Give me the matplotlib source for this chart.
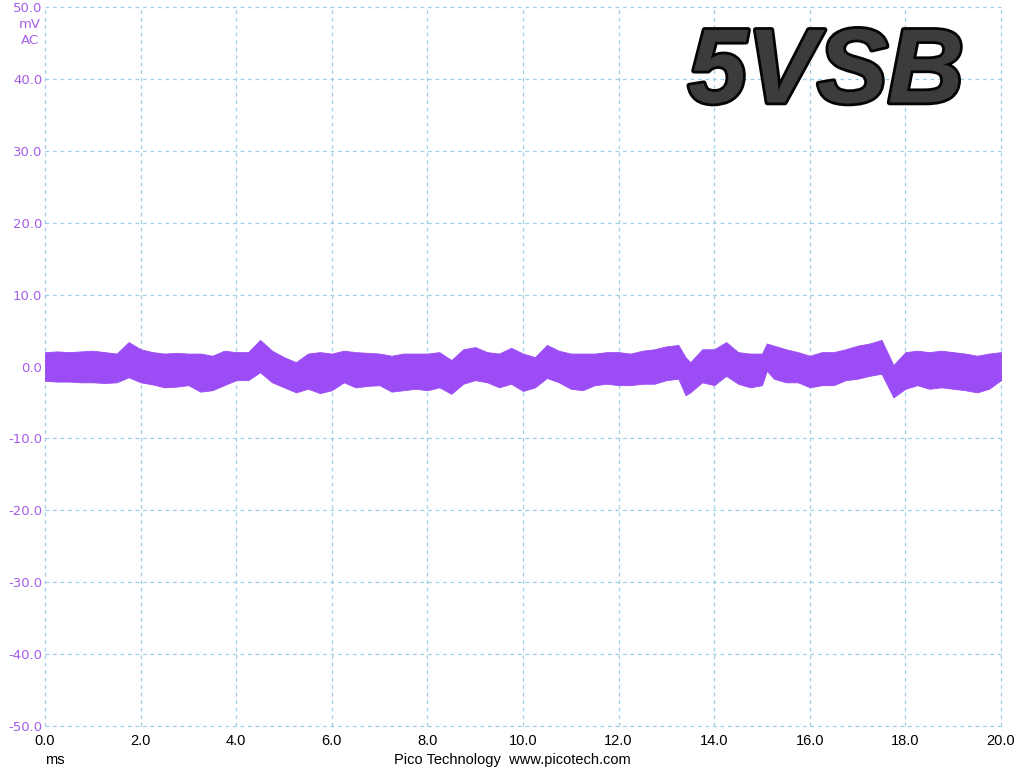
import matplotlib
matplotlib.use("Agg")
import matplotlib.pyplot as plt
import matplotlib.patheffects as pe

# ---- data ----
time_ms = [0, 0.25, 0.5, 0.75, 1, 1.25, 1.5, 1.75, 2, 2.25, 2.5, 2.75, 3, 3.25, 3.5, 3.75,
           4, 4.25, 4.5, 4.75, 5, 5.25, 5.5, 5.75, 6, 6.25, 6.5, 6.75, 7, 7.25, 7.5, 7.75,
           8, 8.25, 8.5, 8.75, 9, 9.25, 9.5, 9.75, 10, 10.25, 10.5, 10.75, 11, 11.25, 11.5,
           11.75, 12, 12.25, 12.5, 12.75, 13, 13.25, 13.4, 13.5, 13.75, 14, 14.25, 14.5,
           14.75, 15, 15.1, 15.25, 15.5, 15.75, 16, 16.25, 16.5, 16.75, 17, 17.25, 17.5,
           17.75, 18, 18.25, 18.5, 18.75, 19, 19.25, 19.5, 19.75, 20]
upper_mv = [2.0, 2.1, 2.0, 2.1, 2.2, 2.0, 1.8, 3.4, 2.4, 2.0, 1.8, 1.9, 1.8, 1.8, 1.5, 2.2,
            2.0, 2.0, 3.7, 2.2, 1.3, 0.6, 1.8, 2.0, 1.8, 2.2, 2.0, 1.9, 1.8, 1.5, 1.8, 1.8,
            1.8, 2.0, 0.9, 2.4, 2.7, 2.0, 1.8, 2.6, 1.8, 1.3, 3.0, 2.2, 1.8, 1.8, 1.8,
            2.0, 2.0, 1.8, 2.2, 2.4, 2.8, 3.0, 1.3, 0.6, 2.4, 2.4, 3.4, 2.0,
            1.8, 1.8, 3.2, 2.9, 2.4, 2.0, 1.5, 2.0, 2.0, 2.4, 2.9, 3.2, 3.7,
            0.2, 2.0, 2.2, 2.0, 2.2, 2.0, 1.8, 1.5, 1.8, 2.0]
lower_mv = [-2.0, -2.1, -2.1, -2.2, -2.2, -2.3, -2.2, -1.5, -2.2, -2.5, -2.9, -2.8, -2.6, -3.5, -3.3, -2.6,
            -1.9, -1.9, -0.8, -2.2, -2.9, -3.6, -3.1, -3.7, -3.3, -2.2, -2.9, -2.7, -2.6, -3.5, -3.3, -3.1,
            -3.3, -2.9, -3.8, -2.4, -1.9, -2.2, -2.9, -2.4, -3.4, -2.9, -1.6, -2.2, -3.1, -3.3, -2.6,
            -2.4, -2.6, -2.6, -2.4, -2.4, -1.9, -1.7, -4.0, -3.6, -2.2, -2.6, -1.3, -2.4,
            -2.9, -2.6, -0.6, -1.7, -2.2, -2.2, -2.9, -2.6, -2.6, -1.9, -1.7, -1.3, -1.0,
            -4.3, -3.1, -2.6, -3.1, -2.9, -3.1, -3.3, -3.6, -3.1, -1.9]

x_ticks = [0, 2, 4, 6, 8, 10, 12, 14, 16, 18, 20]
y_ticks = [-50, -40, -30, -20, -10, 0, 10, 20, 30, 40, 50]

PURPLE = '#9b4cf4'
LABEL_PURPLE = '#a65de8'
GRID = '#9fcfe6'

fig = plt.figure(figsize=(10.24, 7.68), dpi=100)
ax = fig.add_axes([45/1024, 42/768, 956/1024, 719/768])

ax.fill_between(time_ms, lower_mv, upper_mv, color=PURPLE, linewidth=0.6, edgecolor=PURPLE)

ax.set_xlim(0, 20)
ax.set_ylim(-50, 50)
ax.set_xticks(x_ticks)
ax.set_yticks(y_ticks)
ax.set_xticklabels([f"{v:.1f}" for v in x_ticks], family=['Liberation Sans Narrow', 'Liberation Sans'],
                   fontsize=10.5, color='black')
ax.set_yticklabels([f"{v:.1f}" for v in y_ticks], family='DejaVu Sans', fontsize=9.5, color=LABEL_PURPLE)
ax.tick_params(length=0, pad=2)
ax.tick_params(axis='x', pad=6)
for s in ax.spines.values():
    s.set_visible(False)
ax.grid(True, color=GRID, linestyle=(0, (3, 3)), linewidth=0.9)
for gl in ax.get_xgridlines() + ax.get_ygridlines():
    gl.set_clip_on(False)
ax.set_axisbelow(True)

fig.text(30/1024, 1 - 24/768, 'mV', color=LABEL_PURPLE, fontsize=9.5, ha='center', va='center')
fig.text(30/1024, 1 - 41/768, 'AC', color=LABEL_PURPLE, fontsize=9.5, ha='center', va='center')
fig.text(55/1024, 1 - 760/768, 'ms', family=['Liberation Sans Narrow', 'Liberation Sans'],
         fontsize=10.5, ha='center', va='center')
fig.text(512/1024, 1 - 760/768, 'Pico Technology  www.picotech.com',
         family=['Liberation Sans Narrow', 'Liberation Sans'], fontsize=10.5, ha='center', va='center')

fig.text(826/1024, 1 - 75/768, '5VSB', family='Liberation Sans', fontweight='bold', fontstyle='italic',
         fontsize=76, color='#3c3c3c', ha='center', va='center',
         path_effects=[pe.Stroke(linewidth=4, foreground='#050505'), pe.Normal(),
                       ])

fig.savefig('out.png', dpi=100)
